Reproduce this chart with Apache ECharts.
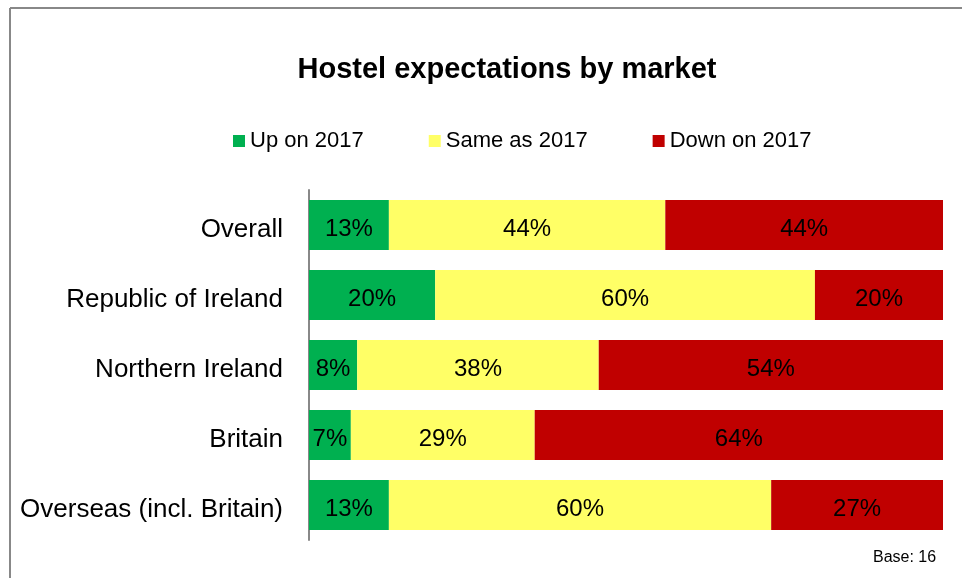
<!DOCTYPE html>
<html>
<head>
<meta charset="utf-8">
<title>Hostel expectations by market</title>
<script src="https://cdn.jsdelivr.net/npm/echarts@6/dist/echarts.min.js"></script>
<style>
  body { margin: 0; background: #fff; }
  #chart { width: 962px; height: 578px; }
</style>
</head>
<body>
<div id="chart"></div>
<script>
// markets, top to bottom
var markets = ['Overall', 'Republic of Ireland', 'Northern Ireland', 'Britain', 'Overseas (incl. Britain)'];
// shares in % (labels are rounded)
var upOn2017 = [12.6, 19.9, 7.6, 6.6, 12.6];
var sameAs2017 = [43.6, 59.9, 38.1, 29.0, 60.3];
var downOn2017 = [43.8, 20.2, 54.3, 64.4, 27.1];
var seriesNames = ['Up on 2017', 'Same as 2017', 'Down on 2017'];
var baseNote = 'Base: 16';

var font = 'Liberation Sans, Arial, sans-serif';

function barSeries(name, data, color) {
  return {
    name: name,
    type: 'bar',
    stack: 'total',
    barWidth: 50,
    data: data,
    itemStyle: { color: color },
    label: {
      show: true,
      position: 'inside',
      offset: [0, 4],
      color: '#000',
      fontSize: 24,
      fontFamily: font,
      formatter: function (p) { return Math.round(p.value) + '%'; }
    }
  };
}

var myChart = echarts.init(document.getElementById('chart'));
myChart.setOption({
  animation: false,
  backgroundColor: '#fff',
  title: {
    text: 'Hostel expectations by market',
    left: 502,
    textAlign: 'center',
    top: 50,
    textStyle: { color: '#000', fontSize: 29, fontWeight: 'bold', fontFamily: font }
  },
  legend: {
    data: seriesNames,
    left: 228,
    top: 125,
    icon: 'rect',
    itemWidth: 12,
    itemHeight: 12,
    itemGap: 65,
    textStyle: { color: '#000', fontSize: 22, fontFamily: font }
  },
  grid: {
    left: 309,
    right: 19,
    top: 190,
    bottom: 38
  },
  xAxis: {
    type: 'value',
    min: 0,
    max: 100,
    show: false
  },
  yAxis: {
    type: 'category',
    inverse: true,
    data: markets,
    axisLine: { show: true, lineStyle: { color: '#888', width: 2 } },
    axisTick: { show: false },
    axisLabel: {
      margin: 26,
      formatter: function (v) { return '{l|' + v + '}'; },
      rich: {
        l: { color: '#000', fontSize: 26, fontFamily: font, padding: [9, 0, 0, 0] }
      }
    }
  },
  graphic: [
    // chart frame, top and left
    { type: 'line', shape: { x1: 10, y1: 8, x2: 962, y2: 8 }, style: { stroke: '#888', lineWidth: 2 } },
    { type: 'line', shape: { x1: 10, y1: 8, x2: 10, y2: 578 }, style: { stroke: '#888', lineWidth: 2 } },
    { type: 'text', left: 873, top: 550, style: { text: baseNote, fill: '#000', fontSize: 16, fontFamily: font } }
  ],
  series: [
    barSeries(seriesNames[0], upOn2017, '#00B050'),
    barSeries(seriesNames[1], sameAs2017, '#FFFF66'),
    barSeries(seriesNames[2], downOn2017, '#C00000')
  ]
});
</script>
</body>
</html>
